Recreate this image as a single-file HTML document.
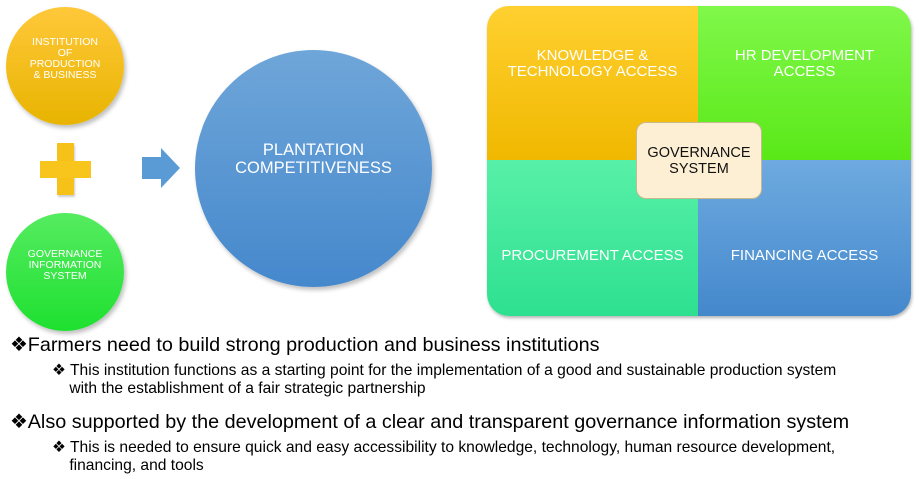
<!DOCTYPE html>
<html><head><style>
body{margin:0;width:919px;height:479px;background:#fff;position:relative;overflow:hidden;font-family:"Liberation Sans",sans-serif}
.c{position:absolute;border-radius:50%;display:flex;align-items:center;justify-content:center;text-align:center;color:#fff;box-shadow:2px 3px 4px rgba(0,0,0,.25)}
.q{position:absolute;display:flex;justify-content:center;text-align:center;color:#fff;font-size:15px;line-height:16px}
.t{position:absolute;color:#000;white-space:nowrap;font-family:"Liberation Sans",sans-serif}
</style></head><body>
<div class="c" style="left:6px;top:7px;width:118px;height:118px;background:linear-gradient(#ffc83a,#e8b400);font-size:10.5px;line-height:11px;padding-bottom:14px;box-sizing:border-box">INSTITUTION<br>OF<br>PRODUCTION<br>&amp; BUSINESS</div>
<div class="c" style="left:6px;top:213px;width:118px;height:118px;background:linear-gradient(#55ec60,#1ee030);font-size:10.5px;line-height:11px;padding-bottom:14px;box-sizing:border-box">GOVERNANCE<br>INFORMATION<br>SYSTEM</div>
<div style="position:absolute;left:57px;top:143px;width:17px;height:52px;background:#f6c21a;box-shadow:1px 2px 2px rgba(0,0,0,.2)"></div>
<div style="position:absolute;left:40px;top:161px;width:51px;height:17px;background:#f8c51c"></div>
<svg style="position:absolute;left:140px;top:146px" width="44" height="48"><polygon points="2,11 21,11 21,2 40,22 21,42 21,33 2,33" fill="#5b9bd5"/></svg>
<div class="c" style="left:195px;top:50px;width:237px;height:237px;background:linear-gradient(#6fa6d9,#4588cc);font-size:16.5px;line-height:18px;padding-bottom:20px;box-sizing:border-box">PLANTATION<br>COMPETITIVENESS</div>
<div style="position:absolute;left:487px;top:6px;width:424px;height:310px;border-radius:22px;overflow:hidden;box-shadow:1px 2px 3px rgba(0,0,0,.3)">
<div class="q" style="left:0;top:0;width:211px;height:154px;background:linear-gradient(#ffd030,#f0b800);padding-top:42px;box-sizing:border-box">KNOWLEDGE &amp;<br>TECHNOLOGY ACCESS</div>
<div class="q" style="left:211px;top:0;width:213px;height:154px;background:linear-gradient(#80f84a,#5ae818);padding-top:42px;box-sizing:border-box">HR DEVELOPMENT<br>ACCESS</div>
<div class="q" style="left:0;top:154px;width:211px;height:156px;background:linear-gradient(#58f0a8,#2ee090);padding-top:88px;box-sizing:border-box">PROCUREMENT ACCESS</div>
<div class="q" style="left:211px;top:154px;width:213px;height:156px;background:linear-gradient(#6eaae0,#4488cc);padding-top:88px;box-sizing:border-box">FINANCING ACCESS</div>
</div>
<div style="position:absolute;left:636px;top:122px;width:126px;height:77px;border-radius:10px;background:#fdefd4;border:1px solid #c8b890;box-sizing:border-box;display:flex;align-items:center;justify-content:center;text-align:center;font-size:14.5px;line-height:16px;color:#111">GOVERNANCE<br>SYSTEM</div>
<div class="t" style="left:10px;top:333px;font-size:19.8px">❖Farmers need to build strong production and business institutions</div>
<div class="t" style="left:52px;top:362px;font-size:15.6px;line-height:18px">❖ This institution functions as a starting point for the implementation of a good and sustainable production system<br>&nbsp;&nbsp;&nbsp;&nbsp;with the establishment of a fair strategic partnership</div>
<div class="t" style="left:10px;top:410px;font-size:19.8px">❖Also supported by the development of a clear and transparent governance information system</div>
<div class="t" style="left:52px;top:439px;font-size:15.6px;line-height:18px">❖ This is needed to ensure quick and easy accessibility to knowledge, technology, human resource development,<br>&nbsp;&nbsp;&nbsp;&nbsp;financing, and tools</div>
</body></html>
